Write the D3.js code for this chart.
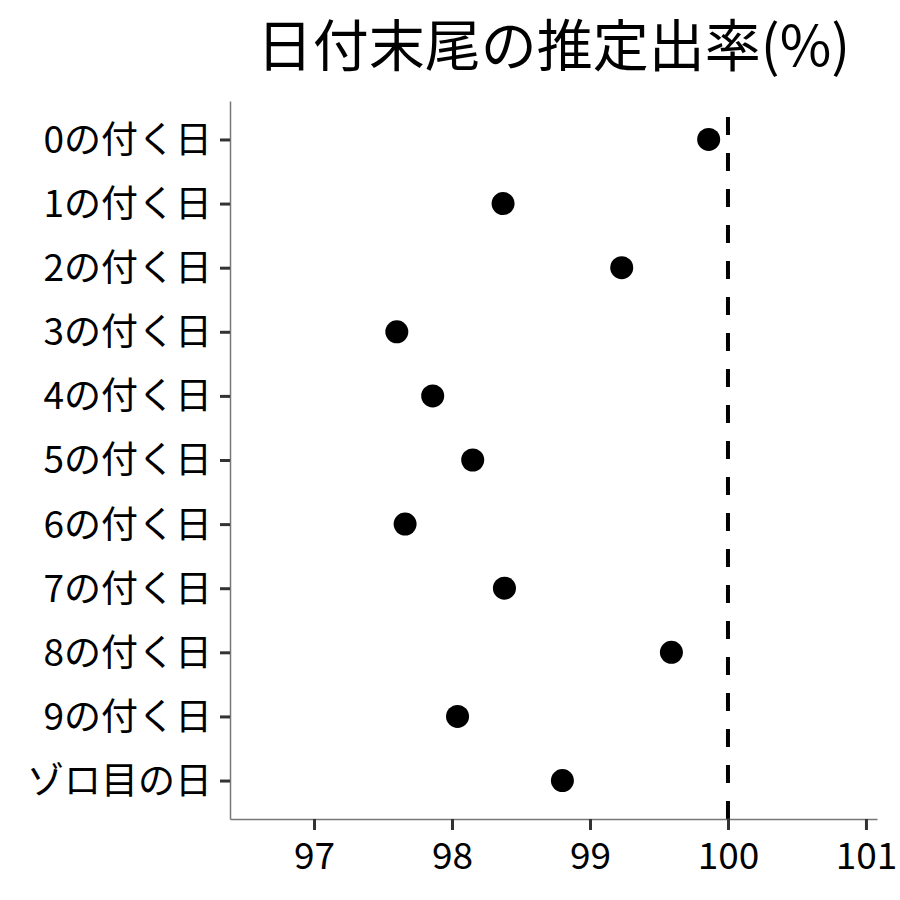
<!DOCTYPE html>
<html>
<head>
<meta charset="utf-8">
<script src="https://cdn.jsdelivr.net/npm/d3@7"></script>
<style>
    body { margin: 0; background: #fff; }
    svg text { font-family: "Noto Sans CJK JP", "Noto Sans", sans-serif; fill: #000; }
</style>
</head>
<body>
<svg id="chart" width="900" height="900"></svg>
<script>
    var categories = ['0の付く日', '1の付く日', '2の付く日', '3の付く日', '4の付く日', '5の付く日',
        '6の付く日', '7の付く日', '8の付く日', '9の付く日', 'ゾロ目の日'];
    var values = [99.86, 98.37, 99.23, 97.60, 97.86, 98.15, 97.66, 98.38, 99.59, 98.04, 98.80];
    var xTicks = [97, 98, 99, 100, 101];
    var refValue = 100;
    var title = '日付末尾の推定出率(%)';

    var margin = {top: 101, right: 23, bottom: 81, left: 230},
        width = 900 - margin.left - margin.right,
        height = 900 - margin.top - margin.bottom;

    var svg = d3.select('#chart');
    var g = svg.append('g')
        .attr('transform', 'translate(' + margin.left + ',' + margin.top + ')');

    var x = d3.scaleLinear()
        .domain([96.391, 101.08])
        .range([0, width]);

    var y = d3.scalePoint()
        .domain(categories)
        .range([0, height])
        .padding(0.6);

    // reference line at 100, dashes counted from the bottom
    g.append('line')
        .attr('x1', x(refValue))
        .attr('x2', x(refValue))
        .attr('y1', height)
        .attr('y2', 0)
        .attr('stroke', '#000')
        .attr('stroke-width', 4)
        .attr('stroke-dasharray', '18,18');

    var xAxis = g.append('g')
        .attr('transform', 'translate(0,' + height + ')')
        .call(d3.axisBottom(x).tickValues(xTicks).tickSizeInner(11).tickSizeOuter(0)
            .tickPadding(8).tickFormat(d3.format('d')));

    var yAxis = g.append('g')
        .call(d3.axisLeft(y).tickSizeInner(10).tickSizeOuter(0).tickPadding(8));

    [xAxis, yAxis].forEach(function (ax) {
        ax.select('.domain').attr('stroke', '#777').attr('stroke-width', 1.5);
        ax.selectAll('.tick line').attr('stroke', '#333').attr('stroke-width', 3);
        ax.selectAll('.tick text')
            .style('font-family', '"Noto Sans CJK JP", sans-serif')
            .style('font-size', '37px')
            .attr('fill', '#000');
    });
    xAxis.selectAll('.tick text').attr('dy', '0.85em');
    yAxis.selectAll('.tick text').attr('dy', '0.35em');

    g.selectAll('.dot')
        .data(values)
        .enter().append('circle')
        .attr('class', 'dot')
        .attr('cx', function (d) { return x(d); })
        .attr('cy', function (d, i) { return y(categories[i]); })
        .attr('r', 11.5)
        .attr('fill', '#000');

    svg.append('text')
        .attr('x', margin.left + width / 2)
        .attr('y', 66)
        .attr('text-anchor', 'middle')
        .style('font-size', '56px')
        .text(title);
</script>
</body>
</html>
